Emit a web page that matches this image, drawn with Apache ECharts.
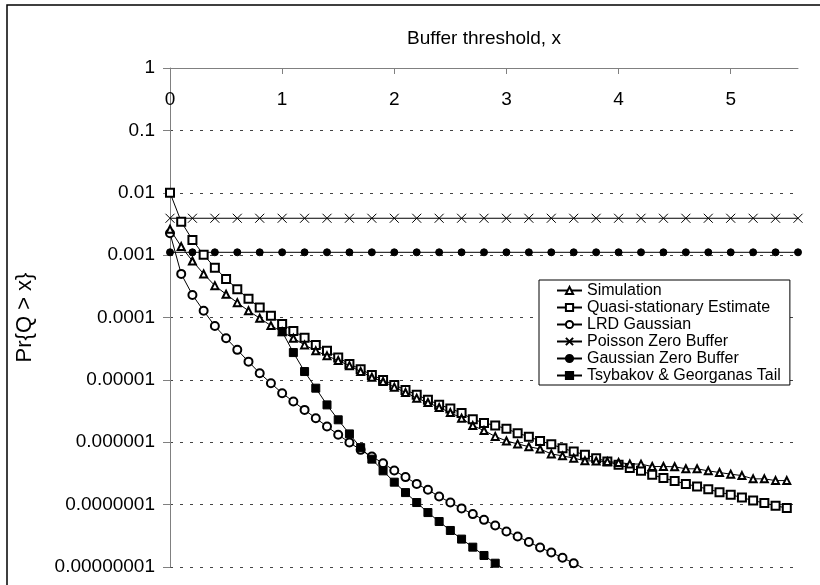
<!DOCTYPE html>
<html><head><meta charset="utf-8">
<script src="https://cdn.jsdelivr.net/npm/echarts@6/dist/echarts.min.js"></script>
<style>html,body{margin:0;padding:0;background:#fff}#c{width:820px;height:585px}</style>
</head><body><div id="c"></div>
<script>
const xValues = [0,0.1,0.2,0.3,0.4,0.5,0.6,0.7,0.8,0.9,1.0,1.1,1.2,1.3,1.4,1.5,1.6,1.7,1.8,1.9,2.0,2.1,2.2,2.3,2.4,2.5,2.6,2.7,2.8,2.9,3.0,3.1,3.2,3.3,3.4,3.5,3.6,3.7,3.8,3.9,4.0,4.1,4.2,4.3,4.4,4.5,4.6,4.7,4.8,4.9,5.0,5.1,5.2,5.3,5.4,5.5];
const simulation = [2.6e-3,1.37e-3,8.07e-4,5.0e-4,3.24e-4,2.36e-4,1.73e-4,1.28e-4,9.75e-5,7.41e-5,5.89e-5,4.66e-5,3.64e-5,2.92e-5,2.43e-5,2.04e-5,1.69e-5,1.36e-5,1.10e-5,9.4e-6,7.64e-6,6.27e-6,5.09e-6,4.33e-6,3.60e-6,2.99e-6,2.43e-6,1.85e-6,1.54e-6,1.24e-6,1.05e-6,9.4e-7,8.5e-7,7.8e-7,6.5e-7,6.05e-7,5.56e-7,5.04e-7,5.0e-7,4.9e-7,4.73e-7,4.5e-7,4.46e-7,4.08e-7,4.08e-7,4.05e-7,3.75e-7,3.75e-7,3.48e-7,3.27e-7,3.08e-7,2.92e-7,2.59e-7,2.59e-7,2.43e-7,2.43e-7];
const quasiStationary = [1.0e-2,3.44e-3,1.75e-3,1.01e-3,6.3e-4,4.16e-4,2.84e-4,1.99e-4,1.44e-4,1.07e-4,7.9e-5,6.1e-5,4.73e-5,3.64e-5,2.92e-5,2.28e-5,1.80e-5,1.48e-5,1.20e-5,1.0e-5,8.3e-6,6.9e-6,5.75e-6,4.8e-6,4.0e-6,3.47e-6,2.95e-6,2.34e-6,2.04e-6,1.86e-6,1.64e-6,1.40e-6,1.23e-6,1.05e-6,9.3e-7,8.0e-7,7.1e-7,6.3e-7,5.56e-7,4.9e-7,4.35e-7,3.85e-7,3.48e-7,3.0e-7,2.66e-7,2.40e-7,2.15e-7,1.95e-7,1.77e-7,1.58e-7,1.44e-7,1.30e-7,1.16e-7,1.06e-7,9.6e-8,8.8e-8];
const lrdX = [0,0.1,0.2,0.3,0.4,0.5,0.6,0.7,0.8,0.9,1.0,1.1,1.2,1.3,1.4,1.5,1.6,1.7,1.8,1.9,2.0,2.1,2.2,2.3,2.4,2.5,2.6,2.7,2.8,2.9,3.0,3.1,3.2,3.3,3.4,3.5,3.6,3.7,3.8];
const lrdGaussian = [2.24e-3,5.0e-4,2.3e-4,1.28e-4,7.3e-5,4.66e-5,3.03e-5,1.96e-5,1.28e-5,8.85e-6,6.12e-6,4.49e-6,3.30e-6,2.43e-6,1.79e-6,1.32e-6,9.9e-7,7.55e-7,5.9e-7,4.62e-7,3.52e-7,2.76e-7,2.15e-7,1.73e-7,1.35e-7,1.08e-7,8.7e-8,7.05e-8,5.7e-8,4.62e-8,3.7e-8,3.09e-8,2.51e-8,2.06e-8,1.71e-8,1.41e-8,1.15e-8,9.3e-9,7.6e-9];
const zeroBufferX = [0,0.2,0.4,0.6,0.8,1.0,1.2,1.4,1.6,1.8,2.0,2.2,2.4,2.6,2.8,3.0,3.2,3.4,3.6,3.8,4.0,4.2,4.4,4.6,4.8,5.0,5.2,5.4,5.6];
const poissonZero = [3.9e-3,3.9e-3,3.9e-3,3.9e-3,3.9e-3,3.9e-3,3.9e-3,3.9e-3,3.9e-3,3.9e-3,3.9e-3,3.9e-3,3.9e-3,3.9e-3,3.9e-3,3.9e-3,3.9e-3,3.9e-3,3.9e-3,3.9e-3,3.9e-3,3.9e-3,3.9e-3,3.9e-3,3.9e-3,3.9e-3,3.9e-3,3.9e-3,3.9e-3];
const gaussianZero = [1.11e-3,1.11e-3,1.11e-3,1.11e-3,1.11e-3,1.11e-3,1.11e-3,1.11e-3,1.11e-3,1.11e-3,1.11e-3,1.11e-3,1.11e-3,1.11e-3,1.11e-3,1.11e-3,1.11e-3,1.11e-3,1.11e-3,1.11e-3,1.11e-3,1.11e-3,1.11e-3,1.11e-3,1.11e-3,1.11e-3,1.11e-3,1.11e-3,1.11e-3];
const tsybakovX = [1.0,1.1,1.2,1.3,1.4,1.5,1.6,1.7,1.8,1.9,2.0,2.1,2.2,2.3,2.4,2.5,2.6,2.7,2.8,2.9,3.0];
const tsybakov = [5.94e-5,2.74e-5,1.36e-5,7.36e-6,3.97e-6,2.29e-6,1.36e-6,8.2e-7,5.36e-7,3.48e-7,2.29e-7,1.56e-7,1.08e-7,7.46e-8,5.36e-8,3.85e-8,2.8e-8,2.08e-8,1.53e-8,1.15e-8,8.7e-9];
const xTickValues = [0,1,2,3,4,5];
const xTickLabels = ['0','1','2','3','4','5'];
const yTickLabels = ['1','0.1','0.01','0.001','0.0001','0.00001','0.000001','0.0000001','0.00000001'];
const seriesNames = ['Simulation','Quasi-stationary Estimate','LRD Gaussian','Poisson Zero Buffer','Gaussian Zero Buffer','Tsybakov & Georganas Tail'];

const FONT = 'Liberation Sans, Arial, sans-serif';
const zip = (xs, ys) => xs.map((x, i) => [x, ys[i]]);
const base = {
  type: 'line', clip: true, animation: false,
  lineStyle: { color: '#000', width: 1 },
  itemStyle: { color: '#000', borderColor: '#000', borderWidth: 1 },
  emphasis: { disabled: true }
};
const chart = echarts.init(document.getElementById('c'), null, { renderer: 'canvas' });
chart.setOption({
  backgroundColor: '#fff',
  animation: false,
  grid: { left: 170, top: 68, right: 22, bottom: 18, containLabel: false },
  graphic: [{
    type: 'rect', shape: { x: 7, y: 5, width: 900, height: 900 },
    style: { fill: 'none', stroke: '#000', lineWidth: 1.5 }, silent: true, z: -1
  }],
  legend: {
    orient: 'vertical', left: 539, top: 280,
    padding: [2, 9, 1, 17],
    itemWidth: 25, itemHeight: 9, itemGap: 0,
    selectedMode: false,
    borderColor: '#000', borderWidth: 1, backgroundColor: '#fff',
    textStyle: { fontFamily: FONT, fontSize: 16, lineHeight: 17, color: '#000' },
    data: seriesNames
  },
  xAxis: {
    type: 'value', position: 'top', min: 0, max: 5.6, interval: 1,
    name: 'Buffer threshold, x', nameLocation: 'middle', nameGap: 20,
    nameTextStyle: { fontFamily: FONT, fontSize: 19, color: '#000' },
    axisLine: { show: true, lineStyle: { color: '#808080', width: 1 } },
    axisTick: { show: true, inside: true, length: 6, customValues: xTickValues, lineStyle: { color: '#808080' } },
    axisLabel: { inside: true, margin: 22, customValues: xTickValues, fontFamily: FONT, fontSize: 19, color: '#000',
      formatter: v => xTickLabels[xTickValues.indexOf(Math.round(v))] },
    splitLine: { show: false }
  },
  yAxis: {
    type: 'log', logBase: 10, min: 1e-8, max: 1, interval: 1,
    name: 'Pr{Q > x}', nameLocation: 'middle', nameGap: 134,
    nameTextStyle: { fontFamily: FONT, fontSize: 22, color: '#000' },
    axisLine: { show: true, lineStyle: { color: '#808080', width: 1 } },
    axisTick: { show: true, length: 7, lineStyle: { color: '#808080' } },
    axisLabel: { margin: 15, fontFamily: FONT, fontSize: 19, color: '#000',
      formatter: v => yTickLabels[Math.round(-Math.log10(v))] },
    splitLine: { show: true, lineStyle: { type: [3, 7], color: '#444', width: 1 } },
    minorTick: { show: false }
  },
  series: [
    Object.assign({}, base, { name: seriesNames[0], data: zip(xValues, simulation), symbol: 'emptyTriangle', symbolSize: 7, z: 3 }),
    Object.assign({}, base, { name: seriesNames[1], data: zip(xValues, quasiStationary), symbol: 'emptyRect', symbolSize: 8, z: 2 }),
    Object.assign({}, base, { name: seriesNames[2], data: zip(lrdX, lrdGaussian), symbol: 'emptyCircle', symbolSize: 8, z: 2 }),
    Object.assign({}, base, { name: seriesNames[3], data: zip(zeroBufferX, poissonZero), symbol: 'path://M0,0L10,10M10,0L0,10', symbolSize: 9, z: 2,
      itemStyle: { color: 'none', borderColor: '#000', borderWidth: 1 } }),
    Object.assign({}, base, { name: seriesNames[4], data: zip(zeroBufferX, gaussianZero), symbol: 'circle', symbolSize: 7, z: 2 }),
    Object.assign({}, base, { name: seriesNames[5], data: zip(tsybakovX, tsybakov), symbol: 'rect', symbolSize: 8, z: 4 })
  ]
});
</script></body></html>
